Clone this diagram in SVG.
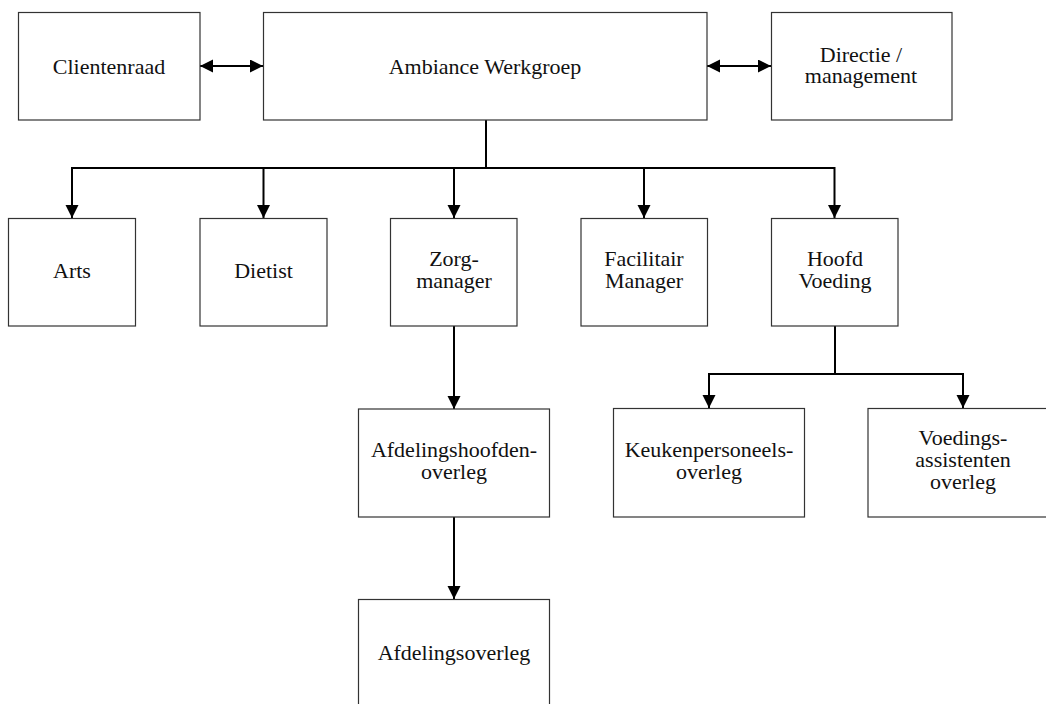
<svg xmlns="http://www.w3.org/2000/svg" width="1046" height="704" viewBox="0 0 1046 704">
<style>
.box{fill:#fff;stroke:#333;stroke-width:1.2}
.lbl{font-family:"Liberation Serif","Times New Roman",serif;font-size:22px;fill:#111;text-anchor:middle}
.con{fill:none;stroke:#000;stroke-width:2}
</style>
<defs>
<marker id="ah" markerUnits="userSpaceOnUse" markerWidth="14" markerHeight="14" refX="13" refY="6.5" orient="auto-start-reverse">
<path d="M0,0 L13,6.5 L0,13 z" fill="#000"/>
</marker>
</defs>
<rect width="1046" height="704" fill="#fff"/>
<g id="connectors">
<path class="con" d="M200,66 H263" marker-start="url(#ah)" marker-end="url(#ah)"/>
<path class="con" d="M707,66 H771" marker-start="url(#ah)" marker-end="url(#ah)"/>
<path class="con" d="M486,120 V168 H72 V218" marker-end="url(#ah)"/>
<path class="con" d="M486,168 H263.5 V218" marker-end="url(#ah)"/>
<path class="con" d="M486,168 H454 V218" marker-end="url(#ah)"/>
<path class="con" d="M486,168 H644 V218" marker-end="url(#ah)"/>
<path class="con" d="M486,168 H834.5 V218" marker-end="url(#ah)"/>
<path class="con" d="M454,326 V409" marker-end="url(#ah)"/>
<path class="con" d="M454,517 V599" marker-end="url(#ah)"/>
<path class="con" d="M835,326 V374 H709 V408" marker-end="url(#ah)"/>
<path class="con" d="M835,374 H963 V408" marker-end="url(#ah)"/>
</g>
<g id="clientenraad">
<rect class="box" x="18.5" y="12.5" width="181.5" height="107.5"/>
<text class="lbl" x="109" y="74">Clientenraad</text>
</g>
<g id="ambiance">
<rect class="box" x="263.5" y="12.5" width="443.5" height="107.5"/>
<text class="lbl" x="485" y="74">Ambiance Werkgroep</text>
</g>
<g id="directie">
<rect class="box" x="771.5" y="12.5" width="180.5" height="107.5"/>
<text class="lbl" x="861" y="62">Directie /</text>
<text class="lbl" x="861" y="83">management</text>
</g>
<g id="arts">
<rect class="box" x="8.5" y="218.5" width="127" height="107.5"/>
<text class="lbl" x="72" y="278">Arts</text>
</g>
<g id="dietist">
<rect class="box" x="200" y="218.5" width="127" height="107.5"/>
<text class="lbl" x="263.5" y="278">Dietist</text>
</g>
<g id="zorgmanager">
<rect class="box" x="390.5" y="218.5" width="126.5" height="107.5"/>
<text class="lbl" x="454" y="266">Zorg-</text>
<text class="lbl" x="454" y="288">manager</text>
</g>
<g id="facilitair">
<rect class="box" x="581" y="218.5" width="126.5" height="107.5"/>
<text class="lbl" x="644" y="266">Facilitair</text>
<text class="lbl" x="644" y="288">Manager</text>
</g>
<g id="hoofdvoeding">
<rect class="box" x="771.5" y="218.5" width="126.5" height="107.5"/>
<text class="lbl" x="835" y="266">Hoofd</text>
<text class="lbl" x="835" y="288">Voeding</text>
</g>
<g id="afdelingshoofdenoverleg">
<rect class="box" x="358.5" y="409" width="191" height="108"/>
<text class="lbl" x="454" y="457">Afdelingshoofden-</text>
<text class="lbl" x="454" y="479">overleg</text>
</g>
<g id="keukenpersoneelsoverleg">
<rect class="box" x="613.5" y="408.5" width="191" height="108.5"/>
<text class="lbl" x="709" y="457">Keukenpersoneels-</text>
<text class="lbl" x="709" y="479">overleg</text>
</g>
<g id="voedingsassistentenoverleg">
<rect class="box" x="868" y="408.5" width="191" height="108.5"/>
<text class="lbl" x="963" y="445">Voedings-</text>
<text class="lbl" x="963" y="467">assistenten</text>
<text class="lbl" x="963" y="489">overleg</text>
</g>
<g id="afdelingsoverleg">
<rect class="box" x="358.5" y="599.5" width="191" height="108"/>
<text class="lbl" x="454" y="660">Afdelingsoverleg</text>
</g>
</svg>
